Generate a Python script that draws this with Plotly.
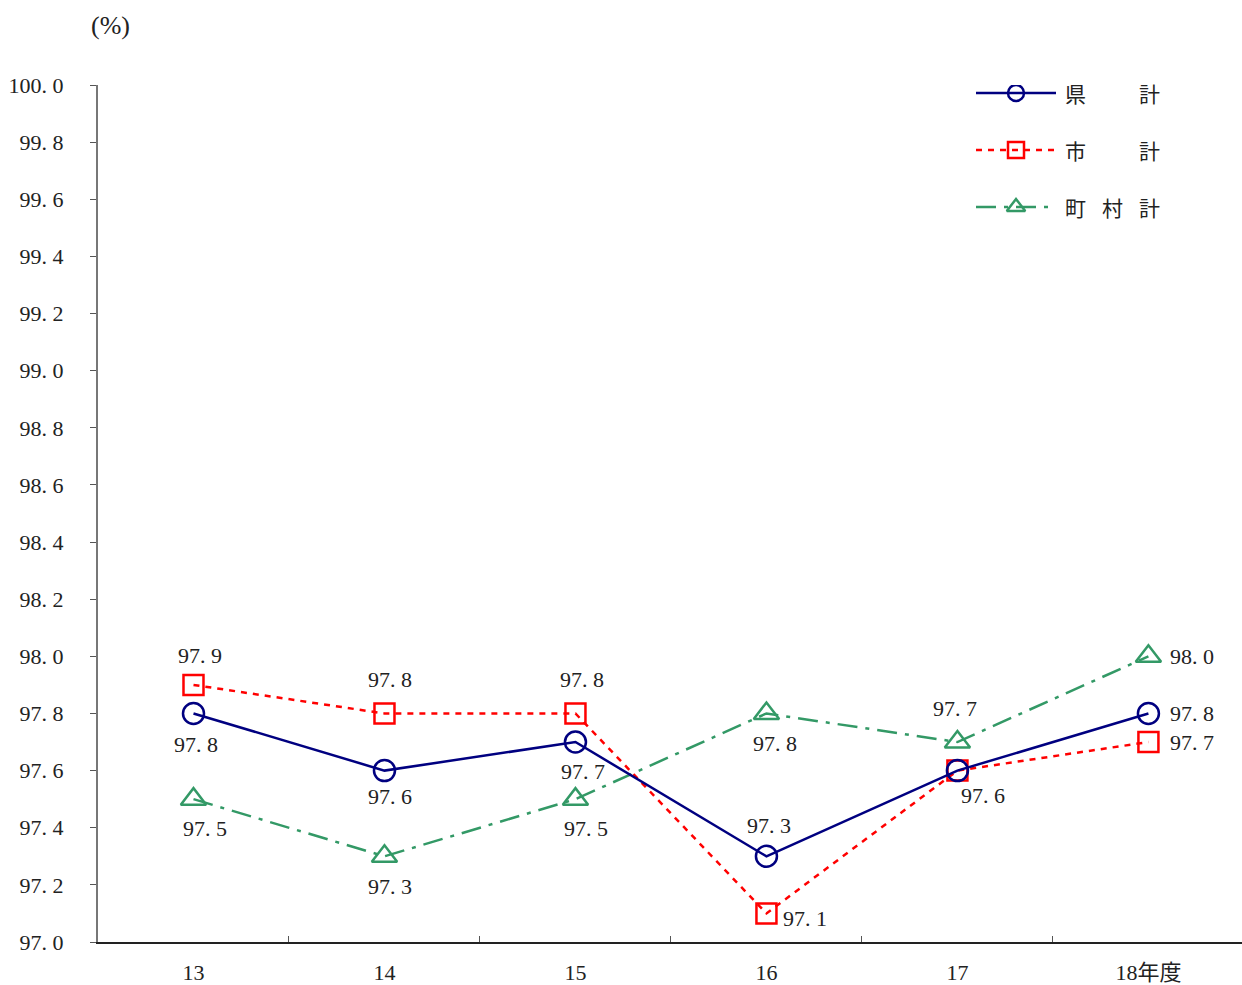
import plotly.graph_objects as go

# Fiscal years and rates (%)
years = ["13", "14", "15", "16", "17", "18年度"]
ken_total = [97.8, 97.6, 97.7, 97.3, 97.6, 97.8]      # 県計
shi_total = [97.9, 97.8, 97.8, 97.1, 97.6, 97.7]      # 市計
chouson_total = [97.5, 97.3, 97.5, 97.8, 97.7, 98.0]  # 町村計
y_ticks = [97.0, 97.2, 97.4, 97.6, 97.8, 98.0, 98.2, 98.4, 98.6, 98.8,
           99.0, 99.2, 99.4, 99.6, 99.8, 100.0]

FONT = "Liberation Serif, Noto Sans CJK JP, serif"
NAVY = "#000080"
RED = "#ff0000"
GREEN = "#339966"
TEXT = "#222222"
DASH_RED = "6px,6px"
DASH_GREEN = "20px,8px,4px,8px"


def fmt(v):
    return f"{v:.1f}".replace(".", ". ")


# label offsets in pixels (dx, dy; dy positive = upward), None = no label
ken_off = [(3, -31), (6, -26), (8, -29), (3, 31), (26, -25), (44, 0)]
shi_off = [(7, 29), (6, 34), (7, 34), (39, -5), None, (44, 0)]
cho_off = [(12, -29), (6, -30), (11, -29), (9, -30), (-2, 34), (44, 0)]

fig = go.Figure()

series = [
    (chouson_total, GREEN, DASH_GREEN, "triangle-up-open", 22, cho_off),
    (shi_total, RED, DASH_RED, "square-open", 20, shi_off),
    (ken_total, NAVY, "solid", "circle-open", 21, ken_off),
]

for values, color, dash, symbol, msize, offsets in series:
    fig.add_trace(go.Scatter(
        x=years, y=values, mode="lines+markers",
        line=dict(color=color, width=2.5, dash=dash),
        marker=dict(symbol=symbol, size=msize, color=color, line=dict(width=2.5)),
        showlegend=False, cliponaxis=False,
    ))
    for i, (v, off) in enumerate(zip(values, offsets)):
        if off is None:
            continue
        # category index keeps numeric-looking year labels on their slot
        fig.add_annotation(
            x=i, y=v, xref="x", yref="y", text=fmt(v), showarrow=False,
            xshift=off[0], yshift=off[1], xanchor="center", yanchor="middle",
            font=dict(family=FONT, size=22, color=TEXT),
        )

# Legend drawn on an overlay axis measured in pixels
legend_items = [
    (["県", "", "計"], NAVY, "solid", "circle-open", 93),
    (["市", "", "計"], RED, DASH_RED, "square-open", 150),
    (["町", "村", "計"], GREEN, DASH_GREEN, "triangle-up-open", 207),
]
char_x = [1063, 1100, 1137]
for chars, color, dash, symbol, ypix in legend_items:
    fig.add_trace(go.Scatter(
        x=[976, 1056], y=[ypix, ypix], mode="lines",
        line=dict(color=color, width=2.5, dash=dash),
        xaxis="x2", yaxis="y2", showlegend=False, hoverinfo="skip",
    ))
    fig.add_trace(go.Scatter(
        x=[1016], y=[ypix], mode="markers",
        marker=dict(symbol=symbol, size=16, color=color, line=dict(width=2.5)),
        xaxis="x2", yaxis="y2", showlegend=False, hoverinfo="skip",
    ))
    for ch, cx in zip(chars, char_x):
        if not ch:
            continue
        fig.add_annotation(
            x=cx, y=ypix, xref="x2", yref="y2", text=ch, showarrow=False,
            xanchor="left", yanchor="middle",
            font=dict(family="Noto Sans CJK JP", size=21, color=TEXT),
        )

fig.add_annotation(
    x=110, y=(942 - 25) / (942 - 85), xref="x2", yref="paper", text="(%)",
    showarrow=False, xanchor="center", yanchor="middle",
    font=dict(family=FONT, size=26, color=TEXT),
)

fig.update_layout(
    width=1242, height=985,
    margin=dict(l=98, r=0, t=85, b=43, autoexpand=False),
    paper_bgcolor="white", plot_bgcolor="white",
    font=dict(family=FONT, size=22, color=TEXT),
    xaxis=dict(
        type="category", range=[-0.5, 5.49], tickson="boundaries",
        ticks="inside", ticklen=6, tickcolor="#555",
        showline=True, linecolor="#222", linewidth=2,
        showgrid=False, zeroline=False, ticklabelstandoff=10,
        automargin=False,
        tickfont=dict(family=FONT, size=22, color=TEXT),
    ),
    yaxis=dict(
        range=[97.0, 100.0], tickvals=y_ticks,
        ticktext=[fmt(v) for v in y_ticks],
        ticks="outside", ticklen=6, tickcolor="#555",
        showline=True, linecolor="#777", linewidth=2,
        showgrid=False, zeroline=False, ticklabelstandoff=22,
        automargin=False,
        tickfont=dict(family=FONT, size=22, color=TEXT),
    ),
    xaxis2=dict(range=[98, 1242], overlaying="x", visible=False,
                domain=[0, 1], anchor="y2", automargin=False),
    yaxis2=dict(range=[942, 85], overlaying="y", visible=False, anchor="x2",
                automargin=False),
)

fig.write_html("out.html")
